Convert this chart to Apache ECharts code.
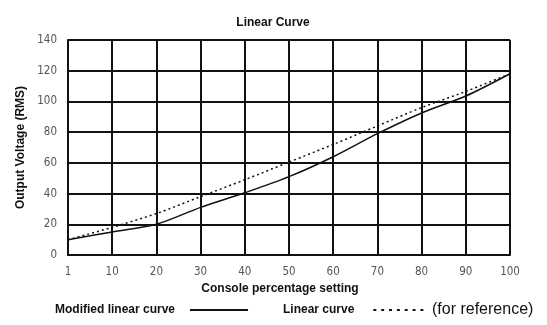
<!DOCTYPE html>
<html><head><meta charset="utf-8">
<script src="https://cdn.jsdelivr.net/npm/echarts@6/dist/echarts.min.js"></script>
<style>html,body{margin:0;padding:0;background:#fff}#c{width:547px;height:325px}</style>
</head><body><div id="c"></div>
<script>
var categories = ['1','10','20','30','40','50','60','70','80','90','100'];
var modifiedCurve = [10, 15, 20, 31, 40.5, 51, 64, 79, 92.5, 103.5, 118];
var linearCurve = [10, 18, 27, 38, 49, 60.5, 72, 84, 96, 106.5, 118];
var yTicks = {min: 0, max: 140, interval: 20};

var narrow = 'DejaVu Sans Condensed, Liberation Sans, Arial, sans-serif';
var bold = 'Liberation Sans, Arial, sans-serif';
var dotsPath = 'path://';
for (var i = 0; i < 7; i++) { var x0 = i * 8; dotsPath += 'M' + x0 + ',0 L' + (x0 + 3) + ',0 L' + (x0 + 3) + ',2 L' + x0 + ',2 Z '; }
var boldText = {fontFamily: bold, fontWeight: 'bold', fontSize: 12, color: '#111'};
var chart = echarts.init(document.getElementById('c'));
chart.setOption({
  animation: false,
  backgroundColor: '#fff',
  title: {text: 'Linear Curve', left: 268, top: 12, textAlign: 'center', textStyle: boldText},
  grid: {left: 68, right: 37, top: 40, bottom: 70},
  legend: [
    {left: 50, top: 299, align: 'right', itemWidth: 58, itemHeight: 2,
      textStyle: Object.assign({}, boldText, {padding: [0, 10, 0, 0]}),
      data: [{name: 'Modified linear curve', icon: 'path://M0,0 L58,0 L58,2 L0,2 Z', itemStyle: {color: '#111'}}]},
    {left: 278, top: 299, align: 'right', itemWidth: 50, itemHeight: 2,
      textStyle: Object.assign({}, boldText, {padding: [0, 14, 0, 0]}),
      data: [{name: 'Linear curve', icon: dotsPath, itemStyle: {color: '#111'}}]}
  ],
  graphic: [{type: 'text', left: 432, top: 302,
    style: {text: '(for reference)', fontFamily: bold, fontSize: 16, fill: '#111'}}],
  xAxis: {
    type: 'category', data: categories, boundaryGap: false,
    name: 'Console percentage setting', nameLocation: 'middle', nameGap: 27,
    nameTextStyle: Object.assign({}, boldText, {padding: [0, 18, 0, 0]}),
    axisLine: {lineStyle: {color: '#111', width: 2}},
    axisTick: {show: false},
    axisLabel: {margin: 11, fontFamily: narrow, fontSize: 11.5, color: '#555'},
    splitLine: {show: true, lineStyle: {color: '#111', width: 2}}
  },
  yAxis: {
    type: 'value', min: yTicks.min, max: yTicks.max, interval: yTicks.interval,
    name: 'Output Voltage (RMS)', nameLocation: 'middle', nameGap: 40, nameRotate: 90,
    nameTextStyle: boldText,
    axisLine: {show: true, lineStyle: {color: '#111', width: 2}},
    axisTick: {show: false},
    axisLabel: {margin: 11, fontFamily: narrow, fontSize: 11.5, color: '#555'},
    splitLine: {show: true, lineStyle: {color: '#111', width: 2}}
  },
  series: [
    {name: 'Modified linear curve', type: 'line', data: modifiedCurve, symbol: 'none', smooth: 0.3,
      lineStyle: {color: '#111', width: 1.5}, itemStyle: {color: '#111'}, z: 5},
    {name: 'Linear curve', type: 'line', data: linearCurve, symbol: 'none', smooth: 0.3,
      lineStyle: {color: '#111', width: 1.5, type: [2, 3]}, itemStyle: {color: '#111'}, z: 5}
  ]
});
</script></body></html>
